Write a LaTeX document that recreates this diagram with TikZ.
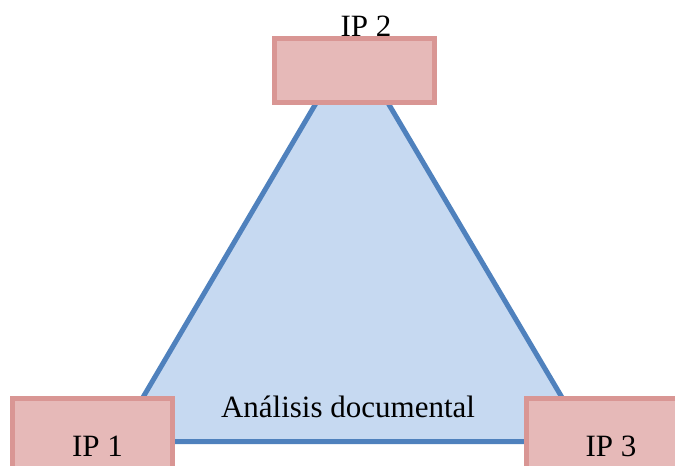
\documentclass[tikz,border=0pt]{standalone}
\usepackage{fontspec}
\setmainfont{Liberation Serif}
\definecolor{triline}{HTML}{4F81BD}
\definecolor{trifill}{HTML}{C6D9F1}
\definecolor{boxline}{HTML}{D99694}
\definecolor{boxfill}{HTML}{E6B9B8}
\begin{document}
\begin{tikzpicture}[x=1pt,y=-1pt,
  ipbox/.style={draw=boxline,fill=boxfill,line width=5pt,rectangle,inner sep=0pt,outer sep=0pt},
  lbl/.style={anchor=base,inner sep=0pt,font=\fontsize{31}{36}\selectfont}]
\useasboundingbox (0,0) rectangle (675,466);
\clip (0,0) rectangle (675,466);
\coordinate (apex) at (352,42);
\coordinate (bl) at (117,441.5);
\coordinate (br) at (588,441.5);
\draw[triline,fill=trifill,line width=5pt,line join=round] (apex) -- (bl) -- (br) -- cycle;
\node[ipbox,minimum width=160pt,minimum height=64pt] (b2) at (354.5,70.5) {};
\node[ipbox,minimum width=160pt,minimum height=72pt] (b1) at (92.5,434.5) {};
\node[ipbox,minimum width=160pt,minimum height=72pt] (b3) at (606.5,434.5) {};
\node[lbl] (t2) at (366,36) {IP 2};
\node[lbl] (t1) at (97.5,456) {IP 1};
\node[lbl] (t3) at (611,456) {IP 3};
\node[lbl] (ta) at (348,417) {Análisis documental};
\end{tikzpicture}
\end{document}
